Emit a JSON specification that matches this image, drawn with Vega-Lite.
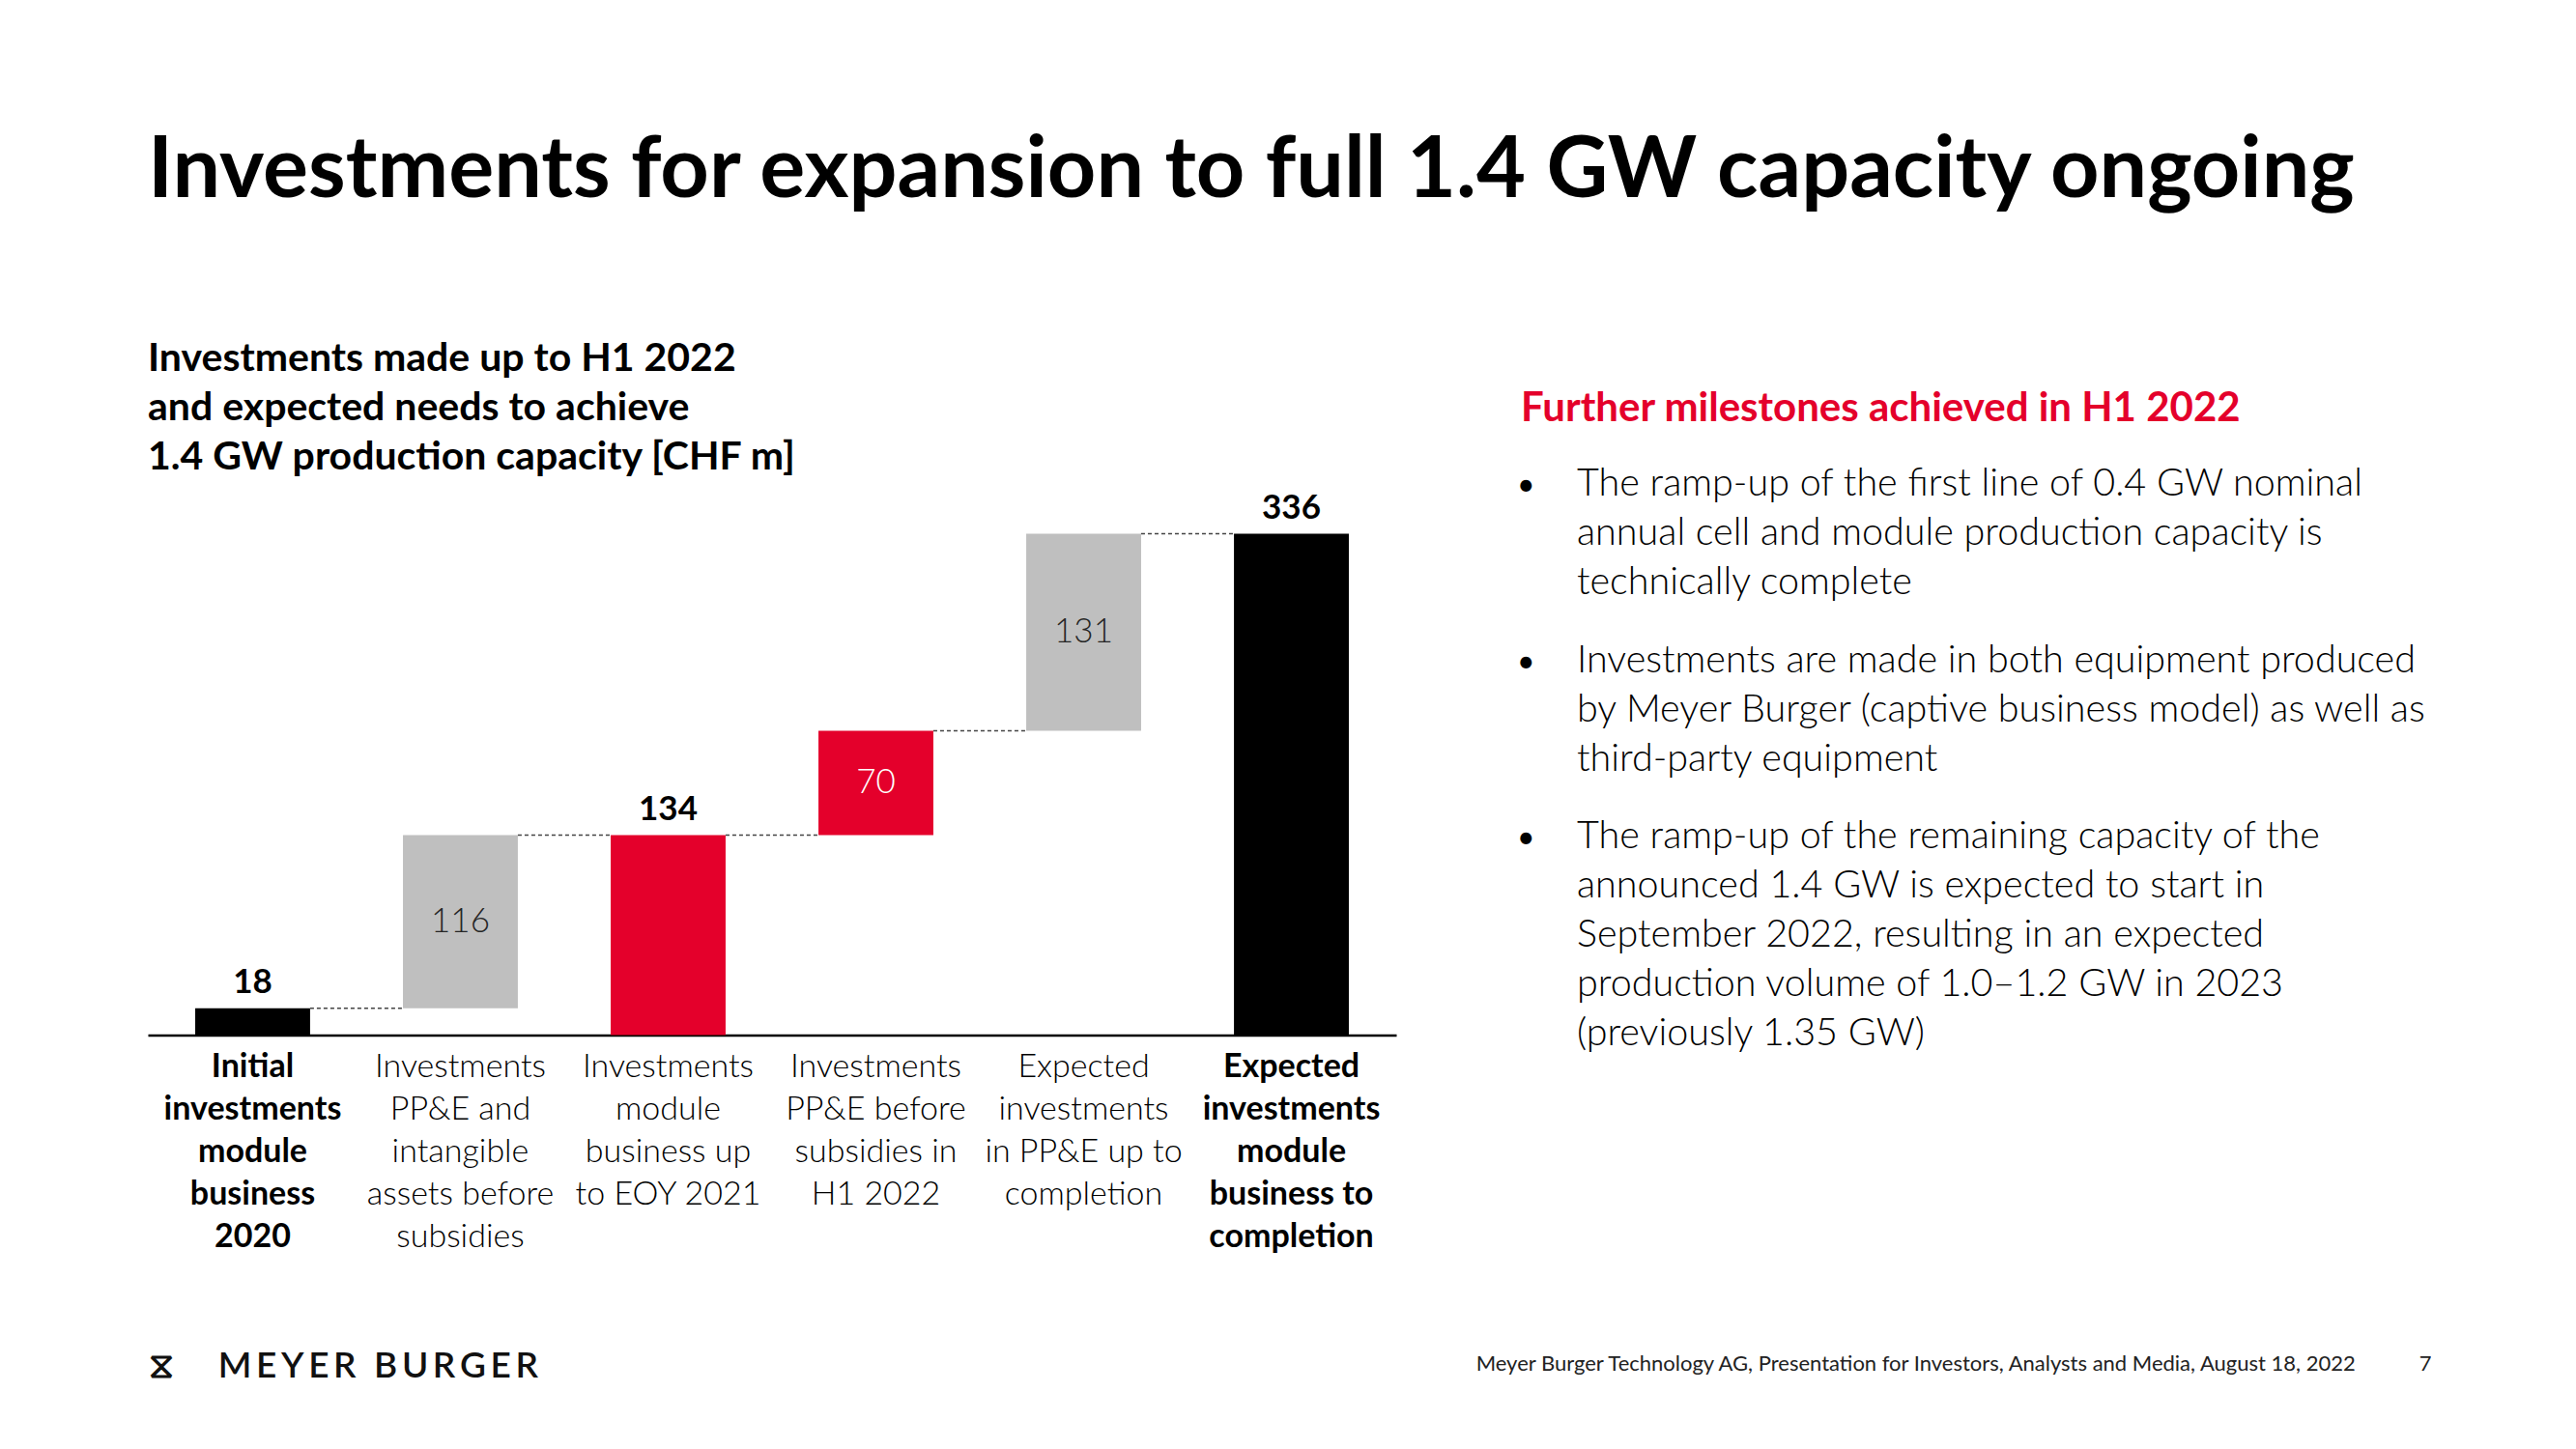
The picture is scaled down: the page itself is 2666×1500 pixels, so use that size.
{
  "$schema": "https://vega.github.io/schema/vega-lite/v6.json",
  "background": "white",
  "padding": {"left": 153, "top": 134, "right": 0, "bottom": 0},
  "config": {"font": "Lato", "view": {"stroke": null}},
  "title": {
    "text": "Investments for expansion to full 1.4 GW capacity ongoing",
    "anchor": "start",
    "font": "Lato",
    "fontSize": 88,
    "fontWeight": "bold",
    "color": "#000000",
    "offset": 129
  },
  "spacing": 77,
  "hconcat": [
    {
      "width": 1292,
      "height": 571.5,
      "title": {
        "text": ["Investments made up to H1 2022", "and expected needs to achieve", "1.4 GW production capacity [CHF m]"],
        "anchor": "start",
        "font": "Lato",
        "fontSize": 41,
        "fontWeight": "bold",
        "lineHeight": 51,
        "color": "#000000",
        "offset": 5
      },
      "data": {
        "values": [
          {"cat": "Initial\ninvestments\nmodule\nbusiness\n2020", "start": 0, "end": 18, "value": 18, "type": "total", "group": "total", "next": "Investments\nPP&E and\nintangible\nassets before\nsubsidies"},
          {"cat": "Investments\nPP&E and\nintangible\nassets before\nsubsidies", "start": 18, "end": 134, "value": 116, "type": "step", "group": "bridge", "next": "Investments\nmodule\nbusiness up\nto EOY 2021"},
          {"cat": "Investments\nmodule\nbusiness up\nto EOY 2021", "start": 0, "end": 134, "value": 134, "type": "total", "group": "highlight", "next": "Investments\nPP&E before\nsubsidies in\nH1 2022"},
          {"cat": "Investments\nPP&E before\nsubsidies in\nH1 2022", "start": 134, "end": 204, "value": 70, "type": "step", "group": "highlight", "next": "Expected\ninvestments\nin PP&E up to\ncompletion"},
          {"cat": "Expected\ninvestments\nin PP&E up to\ncompletion", "start": 204, "end": 336, "value": 131, "type": "step", "group": "bridge", "next": "Expected\ninvestments\nmodule\nbusiness to\ncompletion"},
          {"cat": "Expected\ninvestments\nmodule\nbusiness to\ncompletion", "start": 0, "end": 336, "value": 336, "type": "total", "group": "total", "next": null}
        ]
      },
      "encoding": {
        "x": {
          "field": "cat",
          "type": "nominal",
          "sort": null,
          "scale": {"paddingInner": 0.447, "paddingOuter": 0.228},
          "axis": {
            "title": "⧖\u2003\u2002M\u200a\u200aE\u200a\u200aY\u200a\u200aE\u200a\u200aR\u2002B\u200a\u200aU\u200a\u200aR\u200a\u200aG\u200a\u200aE\u200a\u200aR",
            "titleFont": "Lato",
            "titleFontSize": 37,
            "titleFontWeight": 600,
            "titleColor": "#111111",
            "titleAnchor": "start",
            "titleAlign": "left",
            "titleBaseline": "middle",
            "titleX": 0,
            "titleY": 343,
            "domain": true,
            "domainColor": "#000000",
            "domainWidth": 2.5,
            "ticks": false,
            "grid": false,
            "labelAngle": 0,
            "labelFont": "Lato",
            "labelFontSize": 34,
            "labelLineHeight": 44,
            "labelPadding": 16,
            "labelLimit": 400,
            "labelOverlap": false,
            "labelColor": "#000000",
            "labelBaseline": "top",
            "labelExpr": "split(datum.label, '\\n')",
            "labelFontWeight": {"condition": {"test": "indexof(datum.value, 'Initial') === 0 || indexof(datum.value, 'business to') >= 0", "value": "bold"}, "value": 300}
          }
        }
      },
      "layer": [
        {
          "mark": {"type": "bar"},
          "encoding": {
            "y": {"field": "start", "type": "quantitative", "scale": {"domain": [0, 370], "nice": false}, "axis": null},
            "y2": {"field": "end"},
            "color": {"field": "group", "type": "nominal", "scale": {"domain": ["total", "bridge", "highlight"], "range": ["#000000", "#BFBFBF", "#E4002B"]}, "legend": null}
          }
        },
        {
          "transform": [{"filter": "datum.next != null"}],
          "mark": {"type": "rule", "strokeDash": [4, 3], "strokeWidth": 1.5, "color": "#444444"},
          "encoding": {
            "x": {
              "field": "cat",
              "type": "nominal",
              "sort": null,
              "bandPosition": 1,
              "scale": {"paddingInner": 0.447, "paddingOuter": 0.228},
              "axis": {
                "title": "⧖\u2003\u2002M\u200a\u200aE\u200a\u200aY\u200a\u200aE\u200a\u200aR\u2002B\u200a\u200aU\u200a\u200aR\u200a\u200aG\u200a\u200aE\u200a\u200aR",
                "titleFont": "Lato",
                "titleFontSize": 37,
                "titleFontWeight": 600,
                "titleColor": "#111111",
                "titleAnchor": "start",
                "titleAlign": "left",
                "titleBaseline": "middle",
                "titleX": 0,
                "titleY": 343,
                "domain": true,
                "domainColor": "#000000",
                "domainWidth": 2.5,
                "ticks": false,
                "grid": false,
                "labelAngle": 0,
                "labelFont": "Lato",
                "labelFontSize": 34,
                "labelLineHeight": 44,
                "labelPadding": 16,
                "labelLimit": 400,
                "labelOverlap": false,
                "labelColor": "#000000",
                "labelBaseline": "top",
                "labelExpr": "split(datum.label, '\\n')",
                "labelFontWeight": {"condition": {"test": "indexof(datum.value, 'Initial') === 0 || indexof(datum.value, 'business to') >= 0", "value": "bold"}, "value": 300}
              }
            },
            "x2": {"field": "next", "bandPosition": 0},
            "y": {"field": "end", "type": "quantitative", "axis": null}
          }
        },
        {
          "transform": [{"filter": "datum.type === 'total'"}],
          "mark": {"type": "text", "fontSize": 35, "fontWeight": "bold", "baseline": "alphabetic", "dy": -16, "color": "#000000"},
          "encoding": {
            "y": {"field": "end", "type": "quantitative", "axis": null},
            "text": {"field": "value", "type": "quantitative"}
          }
        },
        {
          "transform": [{"filter": "datum.type === 'step'"}, {"fold": ["start", "end"], "as": ["edge", "level"]}],
          "mark": {"type": "text", "fontSize": 35, "fontWeight": 300, "baseline": "middle"},
          "encoding": {
            "y": {"aggregate": "mean", "field": "level", "type": "quantitative", "axis": null},
            "text": {"field": "value", "type": "quantitative"},
            "detail": {"field": "group", "type": "nominal"},
            "color": {"condition": {"test": "datum.group === 'highlight'", "value": "#ffffff"}, "value": "#262626"}
          }
        }
      ]
    },
    {
      "width": 942,
      "height": 391,
      "title": {
        "text": "Further milestones achieved in H1 2022",
        "anchor": "start",
        "frame": "group",
        "font": "Lato",
        "fontSize": 42,
        "fontWeight": "bold",
        "color": "#E4002B",
        "offset": 36
      },
      "data": {
        "values": [
          {"p": 1, "text": "The ramp-up of the first line of 0.4 GW nominal\nannual cell and module production capacity is\ntechnically complete"},
          {"p": 2, "text": "Investments are made in both equipment produced\nby Meyer Burger (captive business model) as well as\nthird-party equipment"},
          {"p": 3, "text": "The ramp-up of the remaining capacity of the\nannounced 1.4 GW is expected to start in\nSeptember 2022, resulting in an expected\nproduction volume of 1.0–1.2 GW in 2023\n(previously 1.35 GW)"}
        ]
      },
      "encoding": {
        "y": {"field": "p", "type": "ordinal", "scale": {"type": "point", "padding": 0.074}, "axis": null},
        "x": {
          "datum": 0,
          "type": "quantitative",
          "scale": {"domain": [0, 1]},
          "axis": {
            "grid": false,
            "domain": false,
            "ticks": false,
            "labels": false,
            "title": "Meyer Burger Technology AG, Presentation for Investors, Analysts and Media, August 18, 2022\u2003\u2003\u2003\u20037",
            "titleFont": "Lato",
            "titleFontSize": 22,
            "titleFontWeight": 400,
            "titleColor": "#222222",
            "titleAnchor": "end",
            "titleAlign": "right",
            "titleBaseline": "alphabetic",
            "titleX": 942,
            "titleY": 527
          }
        }
      },
      "layer": [
        {
          "mark": {"type": "text", "text": "•", "align": "left", "baseline": "alphabetic", "fontSize": 32, "dx": -4, "color": "#000000"}
        },
        {
          "mark": {"type": "text", "align": "left", "baseline": "alphabetic", "fontSize": 39.5, "fontWeight": 300, "lineHeight": 51, "lineBreak": "\n", "dx": 58, "color": "#000000"},
          "encoding": {"text": {"field": "text", "type": "nominal"}}
        }
      ]
    }
  ]
}
